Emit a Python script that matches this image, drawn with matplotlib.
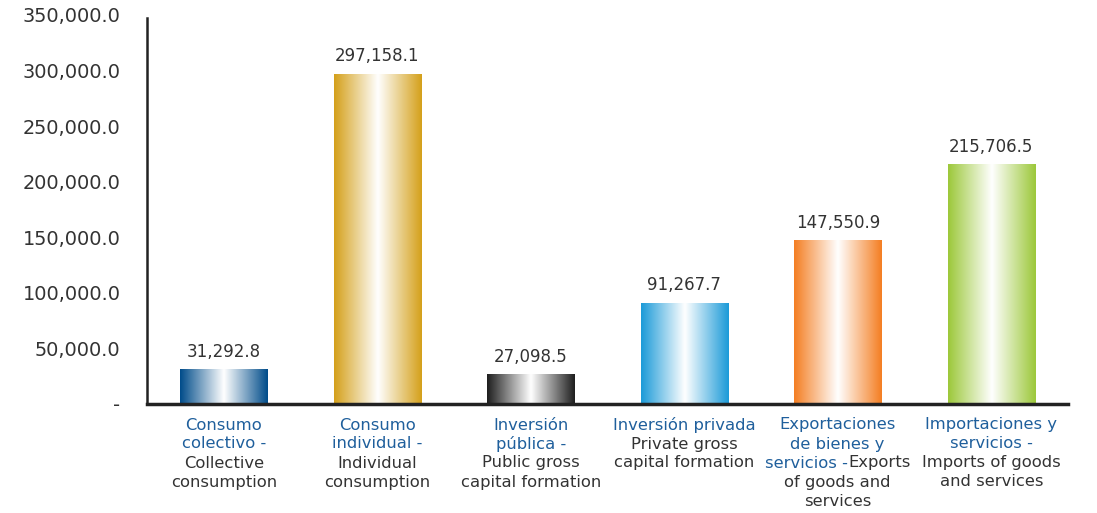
import numpy as np
import matplotlib
matplotlib.use('Agg')
import matplotlib.pyplot as plt
from matplotlib.colors import LinearSegmentedColormap

values = [31292.8, 297158.1, 27098.5, 91267.7, 147550.9, 215706.5]
bar_colors = ['#004C8A', '#D4A01A', '#1E1E1E', '#1B9AD8', '#F47E22', '#9CC83A']
yticks = [0, 50000, 100000, 150000, 200000, 250000, 300000, 350000]
ytick_labels = ['-', '50,000.0', '100,000.0', '150,000.0', '200,000.0',
                '250,000.0', '300,000.0', '350,000.0']

BLUE = '#1F5F9C'
GRAY = '#333333'
# each category: lines, each line a list of (text, colour) pieces
cat_labels = [
    [[('Consumo', BLUE)], [('colectivo -', BLUE)], [('Collective', GRAY)], [('consumption', GRAY)]],
    [[('Consumo', BLUE)], [('individual -', BLUE)], [('Individual', GRAY)], [('consumption', GRAY)]],
    [[('Inversión', BLUE)], [('pública -', BLUE)], [('Public gross', GRAY)], [('capital formation', GRAY)]],
    [[('Inversión privada', BLUE)], [('Private gross', GRAY)], [('capital formation', GRAY)]],
    [[('Exportaciones', BLUE)], [('de bienes y', BLUE)], [('servicios -', BLUE), ('Exports', GRAY)],
     [('of goods and', GRAY)], [('services', GRAY)]],
    [[('Importaciones y', BLUE)], [('servicios -', BLUE)], [('Imports of goods', GRAY)], [('and services', GRAY)]],
]

fig = plt.figure(figsize=(10.97, 5.13), dpi=100)
ax = fig.add_axes([147 / 1097, 1 - 404 / 513, (1068 - 147) / 1097, (404 - 15) / 513])

x = np.arange(len(values))
bars = ax.bar(x, values, width=0.57, color='none', edgecolor='none')

grad = np.linspace(0, 1, 256).reshape(1, -1)
for b, c in zip(bars, bar_colors):
    cmap = LinearSegmentedColormap.from_list('g', [c, 'white', c])
    x0, y0 = b.get_x(), b.get_y()
    im = ax.imshow(grad, cmap=cmap, aspect='auto', interpolation='bicubic',
                   extent=[x0, x0 + b.get_width(), y0, y0 + b.get_height()], zorder=2)
    im.set_clip_path(b)

for xi, v in zip(x, values):
    ax.annotate(f'{v:,.1f}', (xi, v), xytext=(0, 12.5), textcoords='offset points',
                ha='center', va='center', fontsize=12, color=GRAY)

ax.set_xlim(-0.5, len(values) - 0.5)
ax.set_ylim(0, 350000)
ax.set_yticks(yticks)
ax.set_yticklabels(ytick_labels, fontsize=13.9, color=GRAY)
ax.tick_params(axis='y', length=0, pad=19)
ax.set_xticks([])
for s in ['top', 'right']:
    ax.spines[s].set_visible(False)
ax.spines['left'].set_linewidth(1.8)
ax.spines['left'].set_color('#222222')
ax.spines['bottom'].set_linewidth(2.5)
ax.spines['bottom'].set_color('#222222')
ax.spines['left'].set_bounds(0, 347000)

# category labels, built line by line so a line can mix two colours
fig.canvas.draw()
rend = fig.canvas.get_renderer()
fs = 11.8
for xi, lines in zip(x, cat_labels):
    cx = ax.transData.transform((xi, 0))[0]
    for j, segs in enumerate(lines):
        ypix = 513 - (425 + 19 * j)
        texts = [fig.text(0, 0, t, color=c, fontsize=fs, va='center', ha='left') for t, c in segs]
        widths = [t.get_window_extent(rend).width for t in texts]
        left = cx - sum(widths) / 2
        for t, w in zip(texts, widths):
            t.set_position((left / 1097, ypix / 513))
            left += w

fig.savefig('out.png', dpi=100)
